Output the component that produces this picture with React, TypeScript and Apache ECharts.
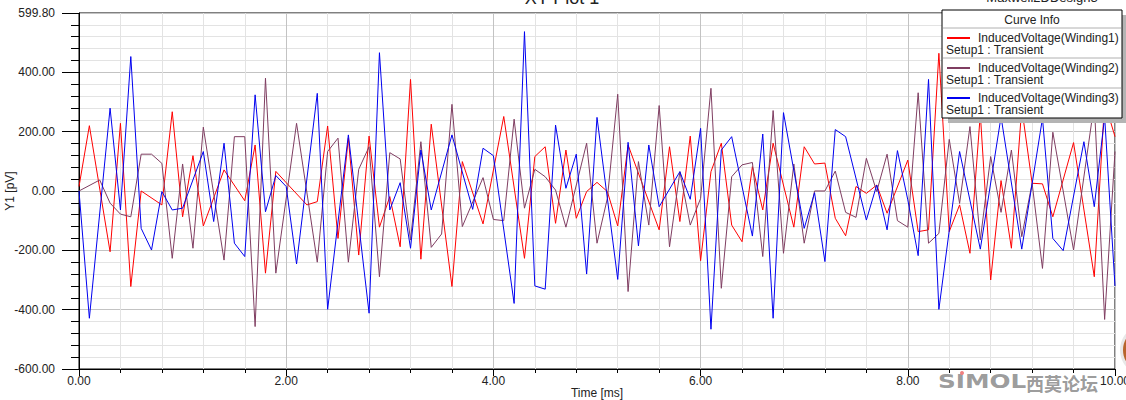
import React, { useEffect, useRef } from "react";
import * as echarts from "echarts";

// ---- data (time in ms, voltage in pV) ----
const w1Time = [0, 0.1, 0.3, 0.4, 0.5, 0.6, 0.8, 0.9, 1.0, 1.1, 1.2, 1.4, 1.6, 1.7, 1.8, 1.9, 2.0, 2.2, 2.3, 2.4, 2.5, 2.6, 2.7, 2.8, 2.9, 3.0, 3.1, 3.2, 3.3, 3.4, 3.6, 3.7, 3.9, 4.1, 4.3, 4.4, 4.5, 4.6, 4.7, 4.8, 4.9, 5.0, 5.1, 5.2, 5.3, 5.6, 5.7, 5.8, 5.9, 6.0, 6.1, 6.2, 6.3, 6.4, 6.5, 6.6, 6.7, 6.9, 7.0, 7.1, 7.2, 7.3, 7.4, 7.5, 7.6, 7.7, 7.8, 8.0, 8.1, 8.2, 8.3, 8.4, 8.5, 8.6, 8.7, 8.8, 8.9, 9.0, 9.1, 9.2, 9.3, 9.4, 9.6, 9.8, 9.9, 10.0];
const w1Volt = [15, 220, -205, 228, -322, 0, -47, 267, -87, 119, -118, 71, -33, 155, -277, 66, 28, -47, -36, 219, -160, 178, -216, 185, -122, -19, -188, 376, -230, 225, -322, 99, -111, 251, -227, 116, 149, -109, 138, -92, -2, 29, -2, -118, 155, -131, 149, -103, 185, -235, 65, 161, -115, -171, 82, -64, 161, -122, 149, 91, 94, -92, -151, 15, -8, 20, -75, 104, -137, -131, 464, -137, -47, -210, 260, -300, 35, -193, 280, 26, 24, -87, 163, -289, 300, 183];

const w2Time = [0, 0.2, 0.3, 0.4, 0.5, 0.6, 0.7, 0.8, 0.9, 1.0, 1.1, 1.2, 1.4, 1.5, 1.6, 1.7, 1.8, 1.9, 2.1, 2.3, 2.4, 2.5, 2.6, 2.7, 2.8, 2.9, 3.0, 3.1, 3.2, 3.3, 3.4, 3.5, 3.6, 3.7, 3.9, 4.0, 4.1, 4.2, 4.3, 4.4, 4.5, 4.6, 4.7, 4.9, 5.0, 5.1, 5.2, 5.3, 5.4, 5.5, 5.6, 5.7, 5.8, 5.9, 6.0, 6.1, 6.2, 6.3, 6.4, 6.5, 6.6, 6.7, 6.8, 6.9, 7.0, 7.1, 7.2, 7.3, 7.4, 7.5, 7.6, 7.7, 7.8, 7.9, 8.0, 8.1, 8.2, 8.3, 8.4, 8.5, 8.6, 8.7, 8.8, 8.9, 9.0, 9.1, 9.2, 9.3, 9.4, 9.6, 9.8, 9.9, 10.0];
const w2Volt = [0, 37, -41, -78, -87, 124, 124, 93, -227, 91, -193, 215, -233, 183, 183, -457, 380, -277, 228, -240, 133, 178, -240, 73, 149, -289, 129, 108, -165, 166, -190, -145, 292, -120, 45, -96, -100, 242, -58, 73, 48, 3, -122, 161, -176, -25, 326, -339, 99, -115, 288, -188, 65, -115, -25, 346, -328, 48, 88, 96, -221, 271, -210, 91, -176, 0, 0, 67, -72, -89, 110, -2, 124, -100, -122, 331, -176, -143, 174, -42, 217, -165, 116, -72, 138, -154, 26, -261, 198, -199, 295, -433, 133];

const w3Time = [0, 0.1, 0.3, 0.4, 0.5, 0.6, 0.7, 0.8, 0.9, 1.0, 1.2, 1.3, 1.4, 1.5, 1.6, 1.7, 1.8, 1.9, 2.0, 2.1, 2.3, 2.4, 2.6, 2.8, 2.9, 3.0, 3.1, 3.2, 3.3, 3.4, 3.6, 3.8, 3.9, 4.0, 4.2, 4.3, 4.4, 4.5, 4.6, 4.7, 4.8, 4.9, 5.0, 5.2, 5.3, 5.4, 5.5, 5.6, 5.8, 5.9, 6.0, 6.1, 6.2, 6.3, 6.5, 6.6, 6.7, 6.8, 7.0, 7.1, 7.2, 7.3, 7.4, 7.6, 7.7, 7.8, 7.9, 8.0, 8.1, 8.2, 8.3, 8.5, 8.7, 8.9, 9.1, 9.3, 9.4, 9.5, 9.7, 9.8, 9.9, 10.0];
const w3Volt = [0, -429, 279, -64, 453, -126, -199, -2, -64, -58, 133, -103, 161, -176, -221, 324, -70, 52, 15, -246, 329, -399, 189, -412, 466, -64, 28, -193, 138, -64, 189, -62, 144, 119, -379, 537, -320, -331, 222, 9, 124, -280, 248, -298, 164, -185, 155, -53, 65, -28, 211, -466, 138, 183, -152, 192, -429, 264, -126, -6, -238, 207, 183, -98, 20, -131, 136, -30, -218, 376, -399, 133, -196, 250, -196, 245, -160, -201, 166, -53, 250, -320];

const seriesNames = ["InducedVoltage(Winding1)", "InducedVoltage(Winding2)", "InducedVoltage(Winding3)"];
const seriesColors = ["#ff0000", "#7f3d61", "#0000f0"];
const setupLabel = "Setup1 : Transient";
const chartTitle = "XY Plot 1";
const designName = "Maxwell2DDesign3";
const legendTitle = "Curve Info";
const xName = "Time [ms]";
const yName = "Y1 [pV]";

const FONT = 'Arial, "Liberation Sans", sans-serif';

function pairs(t: number[], v: number[]) {
  return t.map((x, i) => [x, v[i]]);
}

export default function App() {
  const ref = useRef<HTMLDivElement>(null);
  useEffect(() => {
    if (!ref.current) return;
    const chart = echarts.init(ref.current, null, { renderer: "svg" });
    const data = [pairs(w1Time, w1Volt), pairs(w2Time, w2Volt), pairs(w3Time, w3Volt)];

    const lx = 942, ly = 10, lw = 180, lh = 108;
    const legendEls: any[] = [
      { type: "rect", shape: { x: lx + 6, y: ly + 5, width: lw, height: lh }, style: { fill: "#b4b4b4" }, z: 100 },
      { type: "rect", shape: { x: lx, y: ly, width: lw, height: lh }, style: { fill: "#fff", stroke: "#000", lineWidth: 1 }, z: 101 },
      { type: "text", x: lx + lw / 2, y: ly + 10, style: { text: legendTitle, fill: "#222", font: `12px ${FONT}`, align: "center", verticalAlign: "middle" }, z: 102 },
    ];
    for (let i = 0; i < 3; i++) {
      const top = ly + 18 + i * 30;
      legendEls.push(
        { type: "line", shape: { x1: lx + 1, y1: top, x2: lx + lw - 1, y2: top }, style: { stroke: "#b0b0b0", lineWidth: 1 }, z: 102 },
        { type: "line", shape: { x1: lx + 5, y1: top + 10, x2: lx + 28, y2: top + 10 }, style: { stroke: seriesColors[i], lineWidth: 2 }, z: 102 },
        { type: "text", x: lx + 36, y: top + 10, style: { text: seriesNames[i], fill: "#222", font: `12px ${FONT}`, align: "left", verticalAlign: "middle" }, z: 102 },
        { type: "text", x: lx + 4, y: top + 22, style: { text: setupLabel, fill: "#222", font: `12px ${FONT}`, align: "left", verticalAlign: "middle" }, z: 102 }
      );
    }

    chart.setOption({
      animation: false,
      backgroundColor: "#fff",
      grid: { left: 79, right: 11, top: 13, bottom: 31, show: true, borderColor: "#000", borderWidth: 1, containLabel: false, outerBoundsMode: "none" },
      xAxis: {
        type: "value",
        min: 0,
        max: 10,
        interval: 2,
        axisLine: { show: true, onZero: false, lineStyle: { color: "#000", width: 1 } },
        axisTick: { show: true, length: 7, lineStyle: { color: "#000" } },
        minorTick: { show: true, splitNumber: 5, length: 4, lineStyle: { color: "#000" } },
        splitLine: { show: true, lineStyle: { color: "#c3c3c3", width: 1 } },
        minorSplitLine: { show: true, lineStyle: { color: "#e3e3e3", width: 1 } },
        axisLabel: { color: "#222", fontSize: 12, fontFamily: FONT, margin: 6, formatter: (v: number) => v.toFixed(2) },
      },
      yAxis: {
        type: "value",
        min: -600,
        max: 599.8,
        interval: 200,
        axisLine: { show: true, onZero: false, lineStyle: { color: "#000", width: 1 } },
        axisTick: { show: true, length: 17, lineStyle: { color: "#000" } },
        minorTick: { show: true, splitNumber: 5, length: 8, lineStyle: { color: "#000" } },
        splitLine: { show: true, lineStyle: { color: "#c3c3c3", width: 1 } },
        minorSplitLine: { show: true, lineStyle: { color: "#e3e3e3", width: 1 } },
        axisLabel: { color: "#222", fontSize: 12, fontFamily: FONT, margin: 24, formatter: (v: number) => v.toFixed(2), showMaxLabel: true },
      },
      series: data.map((d, i) => ({
        type: "line",
        name: seriesNames[i],
        data: d,
        showSymbol: false,
        symbol: "none",
        lineStyle: { color: seriesColors[i], width: 1 },
        itemStyle: { color: seriesColors[i] },
        z: 2 + i,
      })),
      graphic: [
        { type: "text", x: 562, y: -2, style: { text: chartTitle, fill: "#222", font: `18px ${FONT}`, align: "center", verticalAlign: "middle" }, z: 50 },
        { type: "text", x: 1042, y: -3, style: { text: designName, fill: "#222", font: `13px ${FONT}`, align: "center", verticalAlign: "middle" }, z: 50 },
        { type: "text", x: 597, y: 393, style: { text: xName, fill: "#222", font: `12px ${FONT}`, align: "center", verticalAlign: "middle" }, z: 50 },
        { type: "text", x: 10, y: 191, rotation: Math.PI / 2, style: { text: yName, fill: "#222", font: `12px ${FONT}`, align: "center", verticalAlign: "middle" }, z: 50 },
        { type: "text", x: 938, y: 382, scaleX: 1.3, style: { text: "SIMOL", fill: "#8f8f8f", opacity: 0.9, font: `bold 19px "DejaVu Sans", sans-serif`, align: "left", verticalAlign: "middle" }, z: 60 },
        { type: "circle", shape: { cx: 962, cy: 373, r: 2 }, style: { fill: "#f08080" }, z: 61 },
        { type: "text", x: 1026, y: 383, style: { text: "西莫论坛", fill: "#8f8f8f", opacity: 0.9, font: `bold 18px "Noto Sans CJK SC", sans-serif`, align: "left", verticalAlign: "middle" }, z: 60 },
        { type: "circle", shape: { cx: 1146, cy: 350, r: 26 }, style: { fill: "#e8e8e8" }, z: 60 },
        { type: "circle", shape: { cx: 1146, cy: 350, r: 23 }, style: { fill: "#b8642c" }, z: 61 },
        ...legendEls,
      ],
    });
    return () => chart.dispose();
  }, []);
  return <div ref={ref} style={{ position: "fixed", left: 0, top: 0, width: 1126, height: 400 }} />;
}
